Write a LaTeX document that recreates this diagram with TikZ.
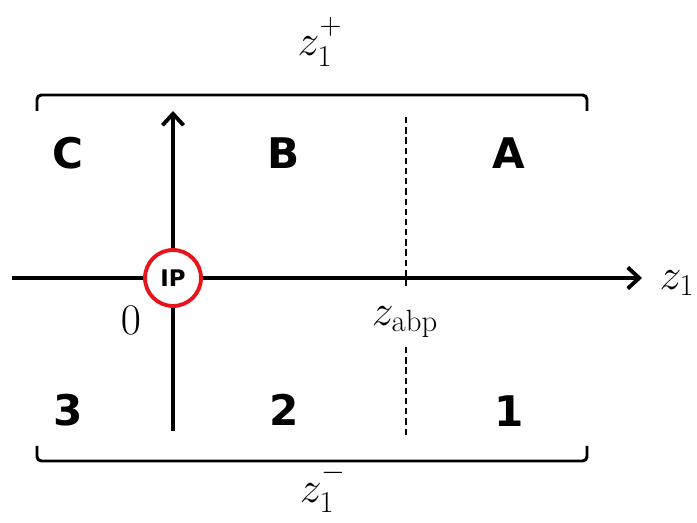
\documentclass[tikz,border=0pt]{standalone}
\usepackage{fontspec}
\newfontfamily\regionfont{DejaVu Sans}
\usepackage{xcolor}
\usetikzlibrary{arrows.meta}
\definecolor{ipred}{HTML}{E8141B}
\definecolor{diagink}{HTML}{000000}

\begin{document}
\begin{tikzpicture}[x=0.02cm,y=-0.02cm,
  point/.style={coordinate},
  axis/.style={draw=diagink, line width=2.2pt, -{Straight Barb[length=6.5pt,width=12pt,line width=2.2pt]}},
  bracket/.style={draw=diagink, line width=1.7pt, rounded corners=2.5pt},
  divider/.style={draw=diagink, line width=1.3pt, dash pattern=on 3.6pt off 2.2pt},
  region/.style={font=\regionfont\bfseries\fontsize{24}{28}\selectfont, text=diagink},
  mathlabel/.style={font=\fontsize{25}{30}\selectfont, text=diagink},
  ipnode/.style={circle, draw=ipred, line width=2.2pt, fill=white, minimum size=1.12cm, inner sep=0pt, font=\regionfont\bfseries\fontsize{13}{15}\selectfont}]
\useasboundingbox (0,0) rectangle (697,523);
% axes
\node[point] (xs) at (12,278) {};
\node[point] (xe) at (642,278) {};
\node[point] (ys) at (173,431) {};
\node[point] (ye) at (173,111) {};
\draw[axis] (xs) -- (xe);
\draw[axis] (ys) -- (ye);
% divider at z_abp, broken round its label
\node[point] (dt) at (406,117) {};
\node[point] (dm1) at (406,287) {};
\node[point] (dm2) at (406,347) {};
\node[point] (db) at (406,437) {};
\draw[divider] (dt) -- (dm1);
\draw[divider] (dm2) -- (db);
% brackets
\node[point] (tl) at (37,111) {};
\node[point] (tm) at (587,95) {};
\node[point] (tr) at (587,111) {};
\node[point] (bl) at (37,446) {};
\node[point] (bm) at (587,461) {};
\node[point] (br) at (587,446) {};
\draw[bracket] (tl) |- (tm) -- (tr);
\draw[bracket] (bl) |- (bm) -- (br);
% interaction point
\node[ipnode] (ip) at (173,278) {IP};
% regions
\node[region] (C) at (68,153) {C};
\node[region] (B) at (284,153) {B};
\node[region] (A) at (509,153) {A};
\node[region] (r3) at (68,410) {3};
\node[region] (r2) at (284,410) {2};
\node[region] (r1) at (509,411) {1};
% labels
\node[mathlabel] (zplus) at (320,42) {$z_1^{\raisebox{3pt}{$\scriptstyle+$}}$};
\node[mathlabel] (zminus) at (323,488) {$z_1^{\raisebox{3pt}{$\scriptstyle-$}}$};
\node[mathlabel] (zone) at (677,283) {$z_1$};
\node[mathlabel] (zero) at (131,320) {$0$};
\node[mathlabel] (zabp) at (405,322) {$z_{\mathrm{abp}}$};
\end{tikzpicture}
\end{document}
